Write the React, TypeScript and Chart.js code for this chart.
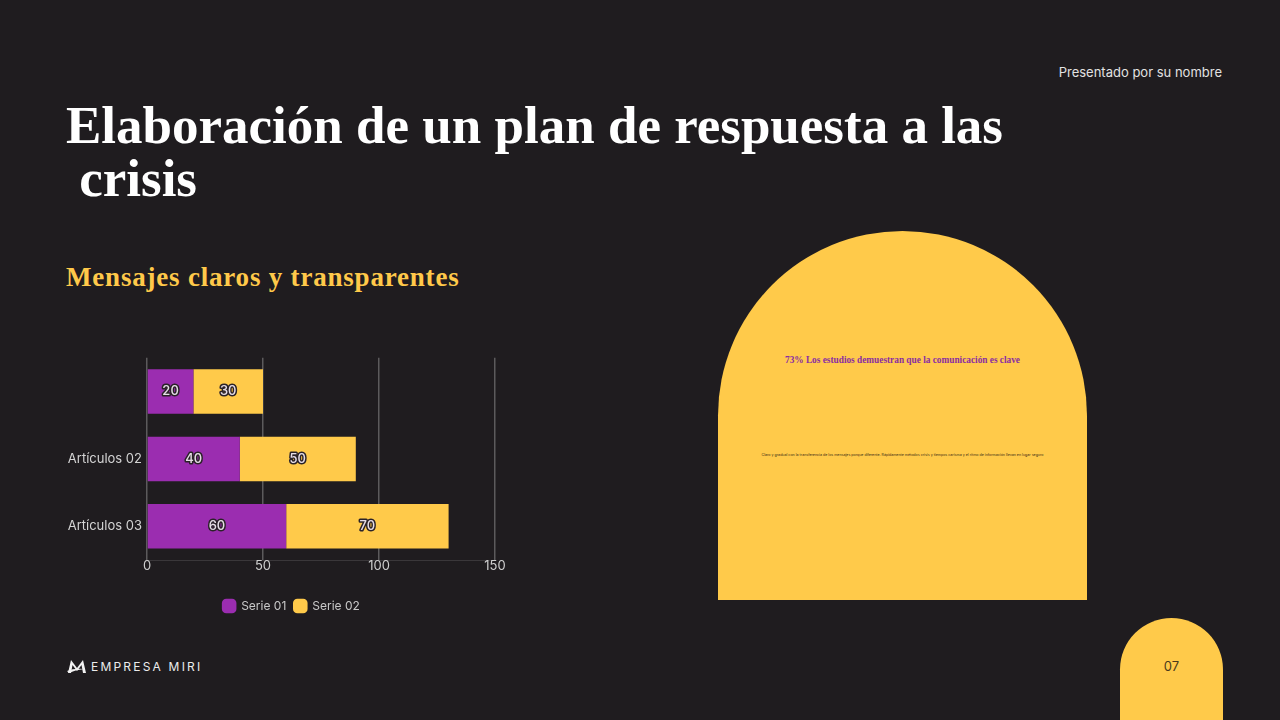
import React, { useEffect, useRef } from "react";
import { Chart, registerables } from "chart.js";

Chart.register(...registerables);

const categories = ["", "Artículos 02", "Artículos 03"];
const serie01 = [20, 40, 60];
const serie02 = [30, 50, 70];
const seriesNames = ["Serie 01", "Serie 02"];
const xTicks = [0, 50, 100, 150];

const PURPLE = "#9b2db0";
const YELLOW = "#ffca4a";
const BG = "#1f1c1f";
const SANS = "Inter, 'Noto Sans', sans-serif";
const SERIF = "'Liberation Serif', 'DejaVu Serif', serif";

const barLabelPlugin = {
  id: "barLabels",
  afterLayout(chart: any) {
    if (chart.legend) {
      chart.legend.left += 14;
      chart.legend.right += 14;
    }
  },
  afterDatasetsDraw(chart: any) {
    const ctx = chart.ctx;
    chart.data.datasets.forEach((ds: any, i: number) => {
      const meta = chart.getDatasetMeta(i);
      meta.data.forEach((bar: any, j: number) => {
        const p = bar.getProps(["x", "y", "base"], true);
        const cx = (p.x + p.base) / 2;
        const text = String(ds.data[j]);
        ctx.save();
        ctx.font = `500 13px ${SANS}`;
        ctx.textAlign = "center";
        ctx.textBaseline = "middle";
        ctx.lineJoin = "round";
        ctx.lineWidth = 3;
        ctx.strokeStyle = "#2a2228";
        ctx.strokeText(text, cx, p.y);
        ctx.fillStyle = "#e6dde6";
        ctx.fillText(text, cx, p.y);
        ctx.restore();
      });
    });
  },
};

function BarChart() {
  const ref = useRef<HTMLCanvasElement>(null);
  useEffect(() => {
    if (!ref.current) return;
    const chart = new Chart(ref.current, {
      type: "bar",
      data: {
        labels: categories,
        datasets: [
          { label: seriesNames[0], data: serie01, backgroundColor: PURPLE, barPercentage: 0.66, categoryPercentage: 1 },
          { label: seriesNames[1], data: serie02, backgroundColor: YELLOW, barPercentage: 0.66, categoryPercentage: 1 },
        ],
      },
      options: {
        indexAxis: "y",
        animation: false,
        responsive: false,
        maintainAspectRatio: false,
        layout: { padding: { top: 10, right: 25, bottom: 3, left: 0 } },
        scales: {
          x: {
            stacked: true,
            min: 0,
            max: 150,
            afterBuildTicks: (scale: any) => {
              scale.ticks = xTicks.map((v) => ({ value: v }));
            },
            afterFit: (scale: any) => {
              scale.height = 32;
            },
            grid: { color: "#5c5a5c", lineWidth: 1.5, drawTicks: false },
            border: { display: true, color: "#3a373a", width: 1 },
            ticks: { color: "#cfcfcf", font: { family: SANS, size: 13 }, padding: -2 },
          },
          y: {
            stacked: true,
            afterFit: (scale: any) => {
              scale.width = 87;
            },
            grid: { display: false, drawTicks: false },
            border: { display: false },
            ticks: { color: "#d4d4d4", font: { family: SANS, size: 13 }, padding: 5 },
          },
        },
        plugins: {
          legend: {
            position: "bottom",
            labels: {
              color: "#c8c8c8",
              font: { family: SANS, size: 12 },
              usePointStyle: true,
              pointStyle: "rectRounded",
              boxWidth: 12,
              boxHeight: 12,
              padding: 8,
            },
          },
          tooltip: { enabled: false },
        },
      },
      plugins: [barLabelPlugin],
    } as any);
    return () => chart.destroy();
  }, []);
  return <canvas ref={ref} width={460} height={280} style={{ position: "absolute", left: 60, top: 345, width: 460, height: 280 }} />;
}

function Logo() {
  return (
    <svg width="22" height="18" viewBox="0 0 22 18" style={{ position: "absolute", left: 66, top: 658 }}>
      <path d="M2 15 L5 2 L11 10 L17 2 L20 15 L17 15 L15.5 7 L11 13 L6.5 7 L5 15 Z" fill="#f2f2f2" />
      <path d="M1 13 Q8 10 18 11 Q9 12 3 15 Z" fill="#f2f2f2" />
    </svg>
  );
}

export default function App() {
  return (
    <div style={{ position: "fixed", left: 0, top: 0, width: 1280, height: 720, background: BG, overflow: "hidden" }}>
      <div style={{ position: "absolute", right: 58, top: 63, fontFamily: SANS, fontSize: 13, color: "#e2e2e2", lineHeight: "18px" }}>
        Presentado por su nombre
      </div>
      <div
        style={{
          position: "absolute",
          left: 66,
          top: 99,
          fontFamily: SERIF,
          fontWeight: 700,
          fontSize: 53,
          lineHeight: "53px",
          color: "#ffffff",
          whiteSpace: "pre",
        }}
      >
        {"Elaboración de un plan de respuesta a las\n crisis"}
      </div>
      <div
        style={{
          position: "absolute",
          left: 66,
          top: 262,
          fontFamily: SERIF,
          fontWeight: 700,
          fontSize: 27,
          letterSpacing: "0.8px",
          lineHeight: "30px",
          color: "#ffc94a",
          whiteSpace: "nowrap",
        }}
      >
        Mensajes claros y transparentes
      </div>
      <BarChart />
      <div
        style={{
          position: "absolute",
          left: 718,
          top: 231,
          width: 369,
          height: 369,
          background: YELLOW,
          borderRadius: "184.5px 184.5px 0 0",
        }}
      >
        <div
          style={{
            position: "absolute",
            left: 0,
            width: 369,
            top: 123,
            textAlign: "center",
            fontFamily: SERIF,
            fontWeight: 700,
            fontSize: 9.3,
            lineHeight: "12px",
            color: "#8a2ea3",
            whiteSpace: "nowrap",
          }}
        >
          73% Los estudios demuestran que la comunicación es clave
        </div>
        <div
          style={{
            position: "absolute",
            left: 0,
            width: 369,
            top: 222,
            textAlign: "center",
            fontFamily: SANS,
            fontSize: 3.6,
            lineHeight: "5px",
            color: "#3a2a14",
            whiteSpace: "nowrap",
          }}
        >
          Claro y gradual con la transferencia de los mensajes porque diferente. Rápidamente métodos crisis y tiempos carisma y el ritmo de información llevan en lugar seguro
        </div>
      </div>
      <Logo />
      <div
        style={{
          position: "absolute",
          left: 91,
          top: 659,
          fontFamily: SANS,
          fontSize: 12,
          letterSpacing: "2.2px",
          lineHeight: "16px",
          color: "#ececec",
          whiteSpace: "nowrap",
        }}
      >
        EMPRESA MIRI
      </div>
      <div
        style={{
          position: "absolute",
          left: 1120,
          top: 618,
          width: 103,
          height: 110,
          background: YELLOW,
          borderRadius: "51.5px 51.5px 0 0",
        }}
      >
        <div
          style={{
            position: "absolute",
            left: 0,
            width: 103,
            top: 39,
            textAlign: "center",
            fontFamily: SANS,
            fontSize: 13,
            lineHeight: "18px",
            color: "#4a3a1c",
          }}
        >
          07
        </div>
      </div>
    </div>
  );
}
